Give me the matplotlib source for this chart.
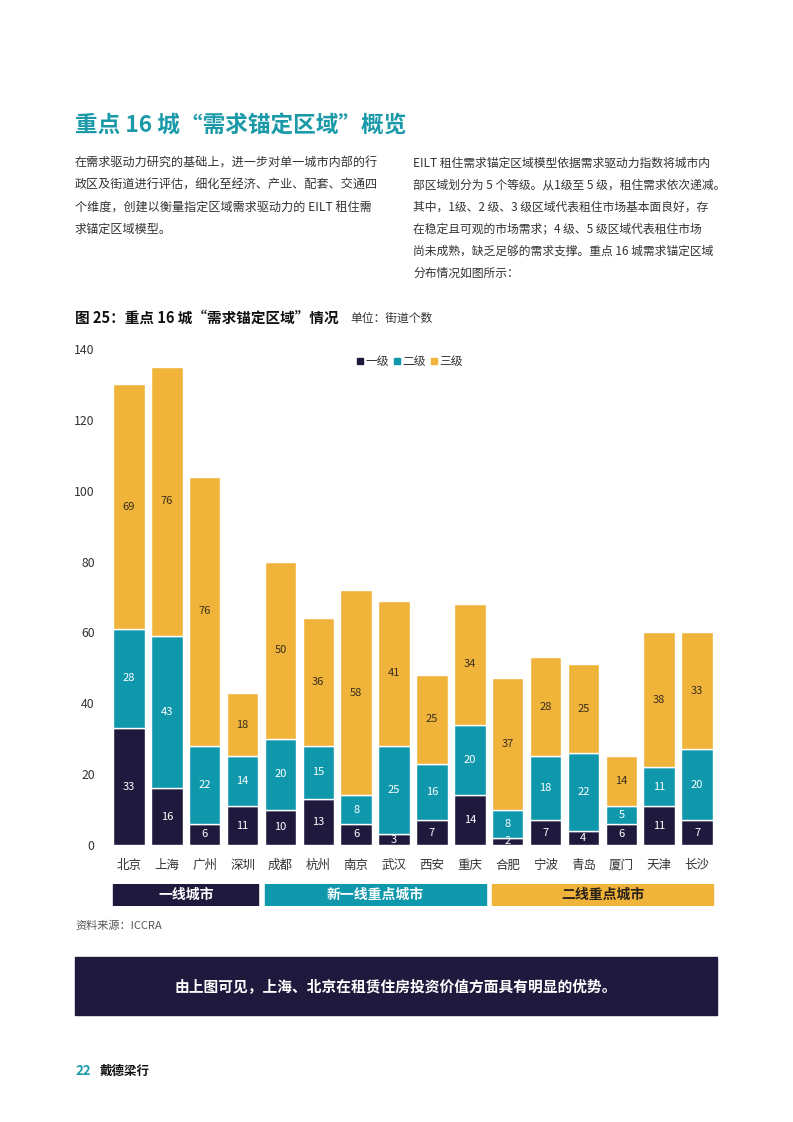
import matplotlib
matplotlib.use('Agg')
import matplotlib.pyplot as plt
from matplotlib.patches import Patch, Rectangle
import numpy as np

plt.rcParams['font.family'] = ['Noto Sans CJK SC', 'DejaVu Sans']

cities = ['北京', '上海', '广州', '深圳', '成都', '杭州', '南京', '武汉',
          '西安', '重庆', '合肥', '宁波', '青岛', '厦门', '天津', '长沙']
level1 = [33, 16, 6, 11, 10, 13, 6, 3, 7, 14, 2, 7, 4, 6, 11, 7]
level2 = [28, 43, 22, 14, 20, 15, 8, 25, 16, 20, 8, 18, 22, 5, 11, 20]
level3 = [69, 76, 76, 18, 50, 36, 58, 41, 25, 34, 37, 28, 25, 14, 38, 33]
series_names = ['一级', '二级', '三级']
yticks = [0, 20, 40, 60, 80, 100, 120, 140]

groups = ['一线城市', '新一线重点城市', '二线重点城市']
group_first = [0, 4, 10]
group_last = [3, 9, 15]

NAVY = '#1f1a3d'
TEAL = '#0f97ac'
GOLD = '#f0b43a'
TITLE_TEAL = '#1a9aa8'
TXT = '#333333'

W, H = 793, 1122
fig = plt.figure(figsize=(W / 100, H / 100), dpi=100)


def fx(px):
    return px / W


def fy(py):
    return 1 - py / H


# header text
fig.text(fx(75), fy(125), '重点 16 城“需求锚定区域”概览', fontsize=16.3, fontweight='bold',
         color=TITLE_TEAL, va='center', ha='left')

left_lines = ['在需求驱动力研究的基础上，进一步对单一城市内部的行',
              '政区及街道进行评估，细化至经济、产业、配套、交通四',
              '个维度，创建以衡量指定区域需求驱动力的 EILT 租住需',
              '求锚定区域模型。']
right_lines = ['EILT 租住需求锚定区域模型依据需求驱动力指数将城市内',
               '部区域划分为 5 个等级。从1级至 5 级，租住需求依次递减。',
               '其中，1级、2 级、3 级区域代表租住市场基本面良好，存',
               '在稳定且可观的市场需求；4 级、5 级区域代表租住市场',
               '尚未成熟，缺乏足够的需求支撑。重点 16 城需求锚定区域',
               '分布情况如图所示：']
for i, s in enumerate(left_lines):
    fig.text(fx(75), fy(163 + i * 22), s, fontsize=8.7, color=TXT, va='center', ha='left')
for i, s in enumerate(right_lines):
    fig.text(fx(413), fy(163 + i * 22), s, fontsize=8.5, color=TXT, va='center', ha='left')

# chart title
fig.text(fx(75), fy(318), '图 25：重点 16 城“需求锚定区域”情况', fontsize=10.5,
         fontweight='bold', color='#111111', va='center', ha='left')
fig.text(fx(350), fy(318), '单位：街道个数', fontsize=8.5, color=TXT, va='center', ha='left')

# main axes
ax_left, ax_right = 110, 716
ax_top, ax_bot = 349, 845
ax = fig.add_axes([fx(ax_left), fy(ax_bot), fx(ax_right - ax_left), (ax_bot - ax_top) / H])

x = np.arange(len(cities))
l1 = np.array(level1)
l2 = np.array(level2)
l3 = np.array(level3)
bw = 0.83
ax.bar(x, l1, bw, color=NAVY, edgecolor='white', linewidth=1)
ax.bar(x, l2, bw, bottom=l1, color=TEAL, edgecolor='white', linewidth=1)
ax.bar(x, l3, bw, bottom=l1 + l2, color=GOLD, edgecolor='white', linewidth=1)

for i in range(len(cities)):
    ax.text(x[i], l1[i] / 2, str(l1[i]), ha='center', va='center', color='white',
            fontsize=8)
    ax.text(x[i], l1[i] + l2[i] / 2, str(l2[i]), ha='center', va='center', color='white',
            fontsize=8)
    ax.text(x[i], l1[i] + l2[i] + l3[i] / 2, str(l3[i]), ha='center', va='center',
            color='#3a2e1e', fontsize=8)

ax.set_xlim(-0.5, len(cities) - 0.5)
ax.set_ylim(0, 140)
ax.set_yticks(yticks)
ax.set_yticklabels([str(v) for v in yticks], fontsize=8.8, color=TXT)
ax.set_xticks(x)
ax.set_xticklabels(cities, fontsize=9, color=TXT)
ax.tick_params(length=0)
ax.tick_params(axis='y', pad=11)
ax.tick_params(axis='x', pad=10)
for sp in ax.spines.values():
    sp.set_visible(False)

handles = [Patch(color=c) for c in (NAVY, TEAL, GOLD)]
fig.legend(handles, series_names, loc='center', bbox_to_anchor=(fx(410), fy(362)),
           ncol=3, frameon=False, fontsize=8.5, handlelength=0.45, handleheight=0.45,
           handletextpad=0.2, columnspacing=0.5, labelcolor=TXT)

# group bands
gax = fig.add_axes([fx(ax_left), fy(906), fx(ax_right - ax_left), 22 / H])
gax.set_xlim(-0.5, len(cities) - 0.5)
gax.set_ylim(0, 1)
gax.axis('off')
g_colors = [NAVY, TEAL, GOLD]
g_txt = ['white', 'white', '#2a2118']
for g, a, b, c, tc in zip(groups, group_first, group_last, g_colors, g_txt):
    gax.add_patch(Rectangle((a - bw / 2, 0), b - a + bw, 1, color=c))
    gax.text((a + b) / 2, 0.5, g, ha='center', va='center', color=tc, fontsize=10,
             fontweight='bold')

fig.text(fx(75), fy(926), '资料来源：ICCRA', fontsize=8, color='#555555', va='center', ha='left')

# conclusion box
fig.patches.append(Rectangle((fx(75), fy(1015)), fx(717 - 75), (1015 - 957) / H,
                             transform=fig.transFigure, color=NAVY, zorder=0))
fig.text(fx(396), fy(986), '由上图可见，上海、北京在租赁住房投资价值方面具有明显的优势。',
         fontsize=10.6, fontweight='bold', color='white', va='center', ha='center')

# footer
fig.text(fx(75), fy(1071), '22', fontsize=9.5, fontweight='bold', color=TITLE_TEAL,
         va='center', ha='left')
fig.text(fx(100), fy(1071), '戴德梁行', fontsize=9, fontweight='bold', color='#111111',
         va='center', ha='left')

fig.savefig('out.png', dpi=100)
